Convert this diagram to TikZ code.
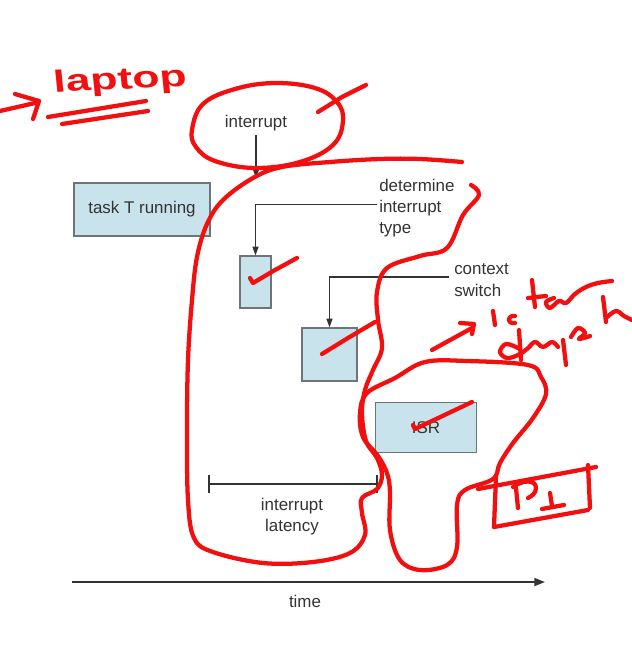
\documentclass[tikz,border=0pt]{standalone}
\usepackage{fontspec}
\setmainfont{Liberation Sans}
\usetikzlibrary{arrows.meta}
\definecolor{boxblue}{HTML}{C8E3EC}
\definecolor{boxline}{HTML}{6E7478}
\definecolor{inkgray}{HTML}{333333}
\definecolor{pen}{HTML}{F20F0F}
\tikzset{
  lbl/.style={font=\fontsize{12.7}{15}\selectfont, text=inkgray, inner sep=0pt},
  blk/.style={draw=boxline, fill=boxblue, line width=0.9pt, inner sep=0pt},
  conn/.style={draw=inkgray, line width=0.9pt},
  arr/.style={conn, -{Triangle[length=6.5pt,width=4.5pt]}},
  penline/.style={draw=pen, line width=3.2pt, line cap=round, line join=round},
}
\begin{document}
\begin{tikzpicture}[x=0.75pt,y=-0.75pt]
\useasboundingbox (0,0) rectangle (632,651);
\fill[white] (0,0) rectangle (632,651);

% ---------- printed diagram ----------
\node[blk, minimum width=102pt, minimum height=39.75pt] (taskT) at (142,209.5) {};
\node[lbl] (taskTtxt) at (142,209.5) {task T running};
\node[blk, minimum width=23.25pt, minimum height=39pt] (box1) at (255.5,282) {};
\node[blk, minimum width=41.25pt, minimum height=39.75pt] (box2) at (329.5,354.5) {};
\node[blk, minimum width=76pt, minimum height=38pt] (isr) at (426,427.5) {};
\node[lbl] (isrtxt) at (426,428) {ISR};

\node[lbl, anchor=base] (intr) at (256,127) {interrupt};
\coordinate (intrtip) at (256,178);
\draw[arr] (256,135) -- (intrtip);

\node[lbl, anchor=base west] (det1) at (379,191) {determine};
\node[lbl, anchor=base west] (det2) at (379,212) {interrupt};
\node[lbl, anchor=base west] (det3) at (379,233) {type};
\coordinate (detstart) at (377,204.5);
\draw[arr] (detstart) -| (box1.north);

\node[lbl, anchor=base west] (ctx1) at (454,274) {context};
\node[lbl, anchor=base west] (ctx2) at (454,296) {switch};
\coordinate (ctxstart) at (449,277);
\draw[arr] (ctxstart) -| (box2.north);

\coordinate (latL) at (209,484);
\coordinate (latR) at (377,484);
\draw[conn] (latL) -- (latR);
\draw[conn] (209,475) -- (209,493);
\draw[conn] (377,475) -- (377,493);
\node[lbl, anchor=base] (lat1) at (292,510) {interrupt};
\node[lbl, anchor=base] (lat2) at (292,531) {latency};

\coordinate (timeL) at (72,582);
\coordinate (timeR) at (545,582);
\draw[conn, line width=1.1pt, -{Triangle[length=8pt,width=6pt]}] (timeL) -- (timeR);
\node[lbl, anchor=base] (time) at (305,607) {time};

% ---------- red handwritten annotations ----------
% left arrow
\draw[penline] (0,111) -- (35,103);
\draw[penline] (15,94) -- (39,101) -- (33,119);
% "laptop"
\node[text=pen, font=\bfseries\fontsize{23}{23}\selectfont, xscale=1.45, rotate=4, inner sep=0pt, anchor=base] (laptop) at (121,89) {laptop};
\draw[penline] (48,117) -- (146,101);
\draw[penline] (62,124) -- (148,111);

% ellipse around interrupt
\draw[penline] plot[smooth cycle, tension=0.65] coordinates {(192,130) (203,104) (235,89) (275,83) (315,88) (337,102) (343,121) (333,145) (300,162) (255,168) (215,161) (196,147)};
\draw[penline] (318,112) -- (342,97) -- (366,85);

% big loop
\draw[penline] plot[smooth, tension=0.6] coordinates {(462,162) (420,159) (380,159) (330,162) (282,167) (253,178) (223,200) (207,224) (197,257) (192,300) (188,360) (187,430) (188,500) (194,538) (213,552) (263,563) (313,562) (350,553) (365,535) (362,513) (362,498) (377,489) (382,475) (377,458) (366,441) (362,413) (365,390) (373,370) (382,348) (378,320) (377,292) (387,268) (420,256) (447,248) (463,215) (479,195) (471,185)};

% second loop around ISR
\draw[penline] plot[smooth cycle, tension=0.6] coordinates {(395,378) (425,362) (467,361) (528,365) (541,377) (546,394) (533,418) (513,443) (500,463) (493,479) (465,490) (457,505) (457,547) (447,565) (420,570) (400,560) (390,530) (390,492) (387,473) (378,456) (363,437) (360,413) (367,393)};

% ticks in boxes
\draw[penline] (250,278) -- (253,283) -- (275,270) -- (297,258);
\draw[penline] (322,354) -- (348,338) -- (375,322);
\draw[penline] (413,425) -- (415,429) -- (472,402);

% box with I2
\draw[penline] (478,489) -- (596,467);
\draw[penline] (588,465) -- (590,508);
\draw[penline] (494,527) -- (588,510);
\draw[penline] (496,477) -- (494,527);
\draw[penline] (516,488) -- (518,508);
\draw[penline] (513,487) .. controls (522,480) and (536,479) .. (536,488) .. controls (536,493) and (532,496) .. (528,498);
\draw[penline] (550,493) -- (552,506);
\draw[penline] (542,509) -- (564,505);

% arrow and scribble at right
\draw[penline] (432,350) -- (472,328);
\draw[penline] (460,323) -- (474,324) -- (472,334);
\draw[penline] (493,311) -- (495,325);
\draw[penline] (515,316) .. controls (507,315) and (506,324) .. (515,323);
\draw[penline] (532,280) -- (535,307);
\draw[penline] (528,298) -- (546,296);
\draw[penline] plot[smooth, tension=0.6] coordinates {(554,298) (546,302) (550,308) (559,301) (566,303) (575,294) (586,287) (598,283) (612,281)};
\draw[penline] (603,297) -- (606,322);
\draw[penline] plot[smooth, tension=0.6] coordinates {(606,318) (616,311) (624,316) (632,320)};
\draw[penline] (519,330) -- (521,360);
\draw[penline] plot[smooth, tension=0.6] coordinates {(518,348) (506,344) (500,352) (507,358) (518,355) (527,349) (535,342) (543,347) (552,342) (558,347)};
\draw[penline] (563,340) -- (566,365);
\draw[penline] plot[smooth, tension=0.6] coordinates {(571,337) (578,328) (585,333) (579,339) (590,336)};
\end{tikzpicture}
\end{document}
